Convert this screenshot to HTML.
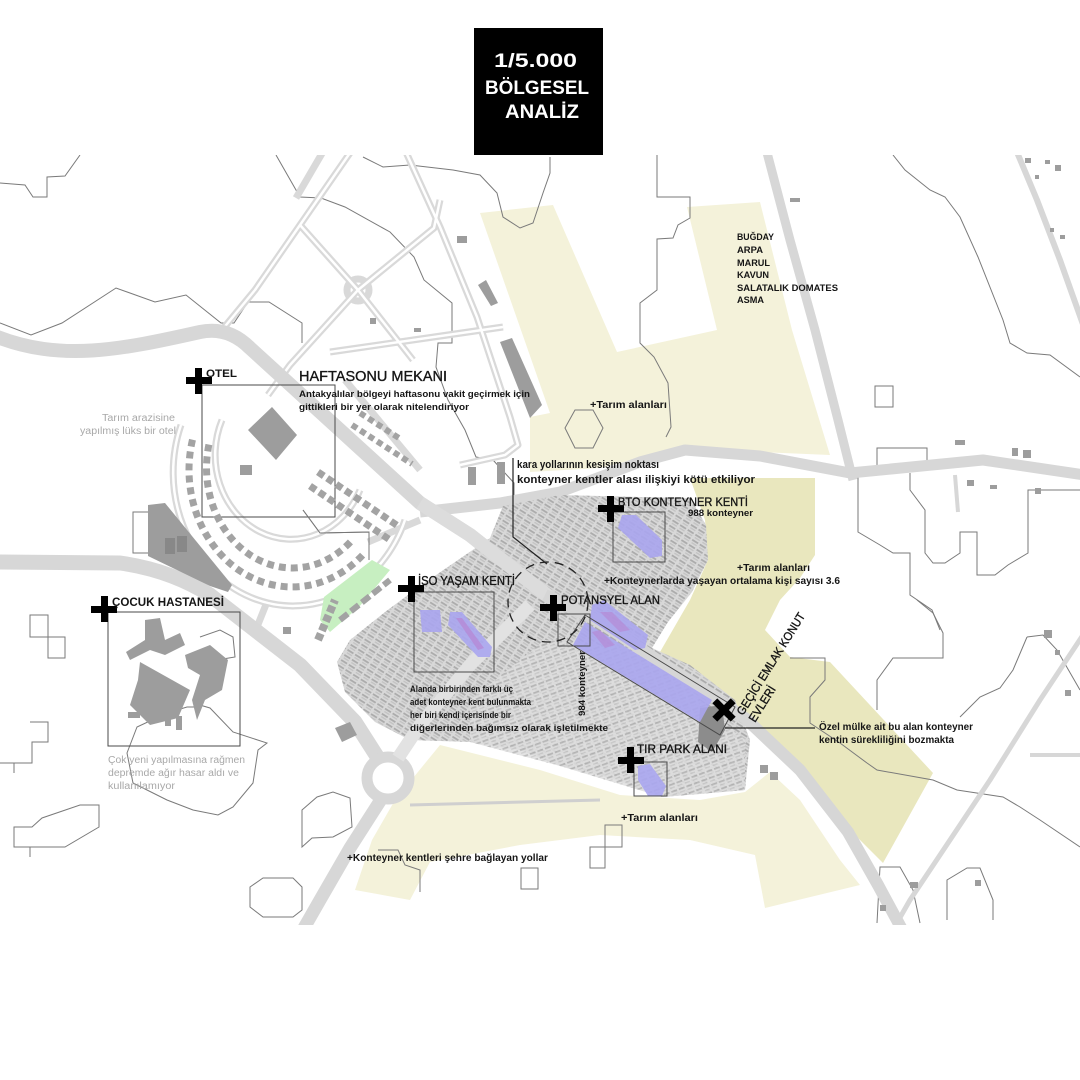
<!DOCTYPE html>
<html><head><meta charset="utf-8">
<style>
html,body{margin:0;padding:0;background:#fff;}
svg{display:block;}
.t{font-family:"Liberation Sans",sans-serif;font-weight:bold;fill:#151515;}
.n{font-family:"Liberation Sans",sans-serif;fill:#151515;stroke:#151515;stroke-width:0.35;}
.g{font-family:"Liberation Sans",sans-serif;fill:#a8a8a8;}
</style></head>
<body>
<svg width="1080" height="1080" viewBox="0 0 1080 1080" xmlns="http://www.w3.org/2000/svg">
<defs>
<pattern id="ct" width="9" height="6" patternUnits="userSpaceOnUse" patternTransform="rotate(32)">
<rect width="9" height="6" fill="#d8d8d8"/>
<rect x="0" y="0" width="7" height="1.8" fill="#ababab"/>
<rect x="1" y="3" width="6" height="1.3" fill="#c2c2c2"/>
</pattern>
<pattern id="ct2" width="8" height="7" patternUnits="userSpaceOnUse" patternTransform="rotate(-20)">
<rect width="8" height="7" fill="#dedede"/>
<rect x="0" y="0" width="6" height="1.8" fill="#b2b2b2"/>
<rect x="0" y="3.5" width="5" height="1.3" fill="#c6c6c6"/>
</pattern>
<clipPath id="map"><rect x="0" y="155" width="1080" height="770"/></clipPath>
</defs>
<rect width="1080" height="1080" fill="#fff"/>

<g clip-path="url(#map)">
<!-- yellow fields -->
<polygon points="480,213 553,205 617,352 717,330 687,207 760,202 792,330 830,455 760,452 685,447 640,458 600,468 530,472 530,417 550,413" fill="#f4f2da"/>
<polygon points="690,478 815,478 815,555 800,578 780,600 765,630 790,657 830,662 933,773 883,863 850,830 800,770 745,718 700,690 660,652 690,600 708,560 705,520" fill="#e9e7be"/>
<polygon points="440,745 540,770 620,795 700,800 745,792 770,772 800,800 840,860 860,885 765,908 755,855 690,840 600,835 520,845 430,862 410,900 355,890 372,840 395,800" fill="#f4f2da"/>

<!-- contour lines -->
<g fill="none" stroke="#7a7a7a" stroke-width="1">
<polyline points="0,183 25,185 33,197 47,197 47,177 65,176 80,155"/>
<polyline points="0,323 31,335 62,323 116,288 155,302 186,295 221,323 234,323 248,302 269,302 302,323 302,343"/>
<polyline points="276,155 300,197 321,198 345,207 390,232 414,257 424,280 452,303 452,343 438,343 436,367 448,400 465,430 476,457 493,460 514,483 514,500"/>
<polyline points="303,510 320,533 369,532 369,560"/>
<polyline points="363,157 383,167 410,165 453,170 480,175 497,193 503,217 520,228 533,223 543,193 550,173 550,157"/>
<polyline points="657,155 657,197 690,197 690,218 678,225 673,238 657,239 657,290 640,303 640,343 654,357 668,383 671,427 666,437"/>
<polyline points="893,155 905,170 930,190 945,197 960,217 978,257 1003,320 1010,343 1027,353 1050,355 1080,377"/>
<rect x="875" y="386" width="18" height="21"/>
<polyline points="877,468 877,448 927,448 927,465"/>
<polyline points="910,473 910,490 925,510 925,553 933,563 945,563 960,553 960,532 977,532 977,575 995,575 1008,565 1028,553 1028,490 1080,490"/>
<polyline points="858,470 858,532 880,545 893,553 910,553 910,595 932,610 940,630"/>
<polyline points="917,600 933,613 943,633 943,658 893,658 877,680 877,710"/>
<polyline points="1027,637 1043,635 1057,650 1080,690"/>
<polyline points="960,717 980,697 1000,688 1013,670 1027,637"/>
<polyline points="790,658 825,658 825,680 810,697 810,723 840,743 867,763 877,770 933,780 957,790 1003,797 1020,807 1040,820 1080,847"/>
<polyline points="877,923 880,867 900,867 913,890 920,923"/>
<polyline points="947,920 947,880 967,868 980,868 993,900 993,920"/>
<polygon points="565,428 575,410 593,410 603,428 593,448 575,448"/>
<polygon points="30,615 48,615 48,637 65,637 65,658 48,658 48,637 30,637"/>
<polyline points="30,722 48,722 48,742 32,742 32,763 0,763"/>
<line x1="14" y1="763" x2="14" y2="773"/>
<polygon points="14,827 32,827 42,818 80,805 99,805 99,827 65,847 14,847"/>
<line x1="30" y1="847" x2="30" y2="857"/>
<polyline points="200,637 220,630 233,637 235,657 217,660 200,707 187,707 167,713 137,727 127,753 133,783 167,800 193,810 218,815 233,807 253,783 258,750 267,743 233,732 210,708 193,703"/>
<polygon points="302,810 317,797 333,792 350,798 352,827 333,837 312,838 302,847 302,823"/>
<polygon points="250,887 263,878 293,878 302,887 302,910 293,917 263,917 250,907"/>
<polygon points="605,825 622,825 622,847 605,847 605,868 590,868 590,847 605,847"/>
<rect x="521" y="868" width="17" height="21"/>
<polyline points="378,850 398,850 405,865 420,870 420,892"/>
<polygon points="133,512 152,512 152,553 133,553"/>
</g>

<!-- campus roads (double line) -->
<g fill="none" stroke-linecap="butt" stroke-linejoin="round">
<g stroke="#d9d9d9" stroke-width="7">
<polyline points="352,150 300,225 255,290 222,330"/>
<polyline points="324,150 296,198"/>
<polyline points="405,150 440,227 477,317 510,417 518,445 505,455 460,465"/>
<polyline points="300,225 358,290 434,228 440,200"/>
<polyline points="358,290 413,360"/>
<polyline points="358,290 290,365 268,395"/>
<polyline points="330,352 503,327"/>
<polyline points="345,380 420,470"/>
<ellipse cx="358" cy="290" rx="11" ry="11"/>
<path d="M181,425 A114,127 0 0 0 405,520"/>
<path d="M222,420 A72,80 0 0 0 360,490"/>
<polyline points="267,602 257,627"/>
<polyline points="368,542 420,520"/>
</g>
<g stroke="#fff" stroke-width="2.5">
<polyline points="352,150 300,225 255,290 222,330"/>
<polyline points="405,150 440,227 477,317 510,417 518,445 505,455 460,465"/>
<polyline points="300,225 358,290 434,228 440,200"/>
<polyline points="358,290 413,360"/>
<polyline points="358,290 290,365 268,395"/>
<polyline points="330,352 503,327"/>
<path d="M181,425 A114,127 0 0 0 405,520"/>
<path d="M222,420 A72,80 0 0 0 360,490"/>
</g>
</g>

<!-- main roads -->
<g fill="none" stroke="#d7d7d7" stroke-linecap="butt" stroke-linejoin="round">
<path d="M-5,336 C60,362 120,350 200,332 Q228,326 250,348 L420,503 L470,535 L545,595" stroke-width="14"/>
<path d="M420,512 L500,503 L560,492 L640,462 L685,450 L760,456 L850,473 L983,460 L1085,475" stroke-width="11"/>
<path d="M-5,562 L120,563 Q170,570 210,595 L300,665 L355,722 L378,758" stroke-width="15"/>
<path d="M382,798 L350,848 L320,900 L300,935" stroke-width="13"/>
<path d="M765,145 L790,240 L815,330 L838,420 L853,480" stroke-width="9"/>
<path d="M1014,145 L1037,200 L1060,260 L1085,330" stroke-width="6"/>
<path d="M1085,632 L1040,700 L990,780 L950,840 L910,900 L890,935" stroke-width="5"/>
<path d="M1030,755 L1085,755" stroke-width="4"/>
<path d="M955,475 L958,512" stroke-width="4"/>
<path d="M410,805 L600,800" stroke-width="3" stroke="#cfcfcf"/>
<circle cx="388" cy="778" r="21" stroke-width="11" fill="#fff"/>
</g>

<!-- green -->
<polygon points="324,597 372,560 390,570 359,607 330,632 320,620" fill="#c7efc1"/>

<!-- container area -->
<path d="M503,506 L560,495 L640,497 L690,498 L706,525 L708,560 L692,592 L668,622 L652,648 L690,665 L735,700 L750,740 L745,790 L700,794 L662,797 L610,778 L560,766 L520,750 L470,742 L410,740 L375,722 L345,692 L337,662 L350,640 L385,612 L420,586 L458,560 L490,538 Z" fill="url(#ct)"/>
<path d="M545,640 L650,650 L700,700 L745,740 L745,790 L662,797 L560,766 L470,742 L470,700 Z" fill="url(#ct2)" opacity="0.85"/>

<!-- roads over containers -->
<g fill="none" stroke="#dcdcdc" stroke-linecap="butt" stroke-linejoin="round">
<path d="M420,503 L470,535 L548,596" stroke-width="14"/>
<path d="M545,595 L600,622 L745,718 L800,770 L848,832 L878,885 L905,935" stroke-width="12" stroke="#d6d6d6"/>
<path d="M530,605 L470,665 L420,725 L398,758" stroke-width="13" stroke="#e2e2e2"/>
</g>
<polygon points="700,708 722,705 725,730 712,752 698,742" fill="#8c8c8c"/>

<!-- purple -->
<g fill="#aaa6ef" opacity="0.9">
<polygon points="622,515 636,515 662,540 662,556 650,558 618,528"/>
<polygon points="420,610 440,610 442,632 422,632"/>
<polygon points="450,612 462,612 492,647 490,657 478,657 448,625"/>
<polygon points="592,605 604,600 648,635 645,648 635,650 590,620"/>
<polygon points="585,622 712,700 700,722 573,645"/>
<polygon points="638,766 650,764 666,786 662,796 648,796 638,780"/>
</g>
<polygon points="456,618 462,618 484,648 478,650" fill="#b58ad6" opacity="0.8"/>
<polygon points="600,612 612,612 630,630 620,632" fill="#b58ad6" opacity="0.7"/>
<polygon points="592,632 600,630 615,645 605,648" fill="#b58ad6" opacity="0.7"/>

<!-- boxes -->
<g fill="none" stroke="#4a4a4a" stroke-width="1">
<rect x="202" y="385" width="133" height="132"/>
<rect x="108" y="612" width="132" height="134"/>
<rect x="414" y="592" width="80" height="80"/>
<rect x="613" y="512" width="52" height="50"/>
<rect x="558" y="614" width="32" height="32"/>
<polygon points="585,615 735,707 720,735 567,642"/>
<rect x="634" y="762" width="33" height="34"/>
<polyline points="303,510 320,533 369,532 369,560" stroke="#777"/>
</g>

<!-- buildings -->
<g fill="#9d9d9d">
<polygon points="248,430 272,407 297,435 276,460"/>
<rect x="240" y="465" width="12" height="10"/>
<polygon points="148,505 165,503 232,585 228,592 210,586 148,556"/>
<rect x="165" y="538" width="10" height="16" fill="#888"/>
<rect x="177" y="536" width="10" height="16" fill="#888"/>
<polygon points="500,342 512,338 542,405 530,418"/>
<polygon points="478,285 486,280 498,303 491,306"/>
<rect x="457" y="236" width="10" height="7"/>
<rect x="414" y="328" width="7" height="4"/>
<rect x="370" y="318" width="6" height="6"/>
<polygon points="145,620 160,618 165,640 180,633 185,645 165,655 150,650 130,660 126,652 145,640"/>
<polygon points="140,662 190,690 178,718 150,725 130,705 138,680"/>
<polygon points="185,655 210,645 228,660 222,690 205,700 197,720 192,700 200,675 188,668"/>
<rect x="128" y="712" width="12" height="6"/>
<rect x="165" y="712" width="6" height="14"/>
<rect x="176" y="716" width="6" height="14"/>
<polygon points="335,728 350,722 357,735 342,742"/>
<rect x="283" y="627" width="8" height="7"/>
<rect x="468" y="467" width="8" height="18"/>
<rect x="497" y="462" width="8" height="22"/>
<rect x="1025" y="158" width="6" height="5"/>
<rect x="1045" y="160" width="5" height="4"/>
<rect x="1055" y="165" width="6" height="6"/>
<rect x="1035" y="175" width="4" height="4"/>
<rect x="1050" y="228" width="4" height="4"/>
<rect x="1060" y="235" width="5" height="4"/>
<rect x="1012" y="448" width="6" height="8"/>
<rect x="1023" y="450" width="8" height="8"/>
<rect x="967" y="480" width="7" height="6"/>
<rect x="990" y="485" width="7" height="4"/>
<rect x="1035" y="488" width="6" height="6"/>
<rect x="955" y="440" width="10" height="5"/>
<rect x="1044" y="630" width="8" height="8"/>
<rect x="1055" y="650" width="5" height="5"/>
<rect x="1065" y="690" width="6" height="6"/>
<rect x="910" y="882" width="8" height="6"/>
<rect x="880" y="905" width="6" height="6"/>
<rect x="975" y="880" width="6" height="6"/>
<rect x="790" y="198" width="10" height="4"/>
<rect x="760" y="765" width="8" height="8"/>
<rect x="770" y="772" width="8" height="8"/>
</g>
<g fill="none" stroke="#a3a3a3">
<path d="M192.5,439.7 A103,117 0 0 0 364.8,552.7" stroke-width="7" stroke-dasharray="7 5"/>
<path d="M208.9,444.6 A86,100 0 0 0 352.8,539.3" stroke-width="7" stroke-dasharray="7 5"/>
<path d="M352,425 L412,464" stroke-width="6" stroke-dasharray="6 4"/>
<path d="M360,413 L402,440" stroke-width="6" stroke-dasharray="6 4"/>
<path d="M318,472 L398,526" stroke-width="7" stroke-dasharray="7 4"/>
<path d="M310,486 L390,540" stroke-width="7" stroke-dasharray="7 4"/>
<path d="M318,640 L335,600" stroke-width="8" stroke-dasharray="7 3"/>
<path d="M340,620 L390,580" stroke-width="6" stroke-dasharray="10 4"/>
</g>
</g>

<!-- dashed circle & leader lines -->
<circle cx="548" cy="602" r="40" fill="none" stroke="#222" stroke-width="1.3" stroke-dasharray="9 6"/>
<polyline points="513,458 513,537 547,564" fill="none" stroke="#222" stroke-width="1.2"/>
<line x1="725" y1="728" x2="815" y2="728" stroke="#222" stroke-width="1.2"/>

<!-- crosses -->
<g fill="#000">
<rect x="186" y="377" width="26" height="7"/><rect x="195" y="368" width="7" height="26"/>
<rect x="91" y="606" width="26" height="7"/><rect x="101" y="596" width="7" height="26"/>
<rect x="398" y="585" width="26" height="7"/><rect x="408" y="576" width="7" height="26"/>
<rect x="598" y="505" width="26" height="7"/><rect x="607" y="496" width="7" height="26"/>
<rect x="540" y="604" width="26" height="7"/><rect x="550" y="595" width="7" height="26"/>
<rect x="618" y="757" width="26" height="7"/><rect x="627" y="747" width="7" height="26"/>
<g transform="translate(724,710) rotate(45)"><rect x="-13" y="-3.5" width="26" height="7"/><rect x="-3.5" y="-13" width="7" height="26"/></g>
</g>

<!-- title -->
<rect x="474" y="28" width="129" height="127" fill="#000"/>
<g font-family="Liberation Sans, sans-serif" font-weight="bold" fill="#fff" font-size="19">
<text x="494" y="67" textLength="83" lengthAdjust="spacingAndGlyphs">1/5.000</text>
<text x="485" y="94" textLength="104" lengthAdjust="spacingAndGlyphs">BÖLGESEL</text>
<text x="505" y="118" textLength="74" lengthAdjust="spacingAndGlyphs">ANALİZ</text>
</g>

<!-- labels -->
<text class="t" x="206" y="377" font-size="11" textLength="31" lengthAdjust="spacingAndGlyphs">OTEL</text>
<text class="n" x="299" y="381" font-size="15" textLength="148" lengthAdjust="spacingAndGlyphs">HAFTASONU MEKANI</text>
<text class="t" x="299" y="397" font-size="9.5" textLength="231" lengthAdjust="spacingAndGlyphs">Antakyalılar bölgeyi haftasonu vakit geçirmek için</text>
<text class="t" x="299" y="410" font-size="9.5" textLength="170" lengthAdjust="spacingAndGlyphs">gittikleri bir yer olarak nitelendiriyor</text>
<text class="g" x="102" y="421" font-size="10" textLength="73" lengthAdjust="spacingAndGlyphs">Tarım arazisine</text>
<text class="g" x="80" y="434" font-size="10" textLength="96" lengthAdjust="spacingAndGlyphs">yapılmış lüks bir otel</text>
<text class="t" x="112" y="606" font-size="12" textLength="112" lengthAdjust="spacingAndGlyphs">ÇOCUK HASTANESİ</text>
<text class="g" x="108" y="763" font-size="10" textLength="137" lengthAdjust="spacingAndGlyphs">Çok yeni yapılmasına rağmen</text>
<text class="g" x="108" y="776" font-size="10" textLength="131" lengthAdjust="spacingAndGlyphs">depremde ağır hasar aldı ve</text>
<text class="g" x="108" y="789" font-size="10" textLength="67" lengthAdjust="spacingAndGlyphs">kullanılamıyor</text>
<text class="n" x="418" y="585" font-size="12.5" textLength="97" lengthAdjust="spacingAndGlyphs">İSO YAŞAM KENTİ</text>
<text class="t" x="517" y="468" font-size="11" textLength="142" lengthAdjust="spacingAndGlyphs">kara yollarının kesişim noktası</text>
<text class="t" x="517" y="483" font-size="11" textLength="238" lengthAdjust="spacingAndGlyphs">konteyner kentler alası ilişkiyi kötü etkiliyor</text>
<text class="n" x="618" y="506" font-size="12" textLength="130" lengthAdjust="spacingAndGlyphs">BTO KONTEYNER KENTİ</text>
<text class="t" x="688" y="516" font-size="9" textLength="65" lengthAdjust="spacingAndGlyphs">988 konteyner</text>
<text class="t" x="737" y="571" font-size="10" textLength="73" lengthAdjust="spacingAndGlyphs">+Tarım alanları</text>
<text class="t" x="604" y="584" font-size="10" textLength="236" lengthAdjust="spacingAndGlyphs">+Konteynerlarda yaşayan ortalama kişi sayısı  3.6</text>
<text class="n" x="561" y="604" font-size="12" textLength="99" lengthAdjust="spacingAndGlyphs">POTANSYEL ALAN</text>
<text class="t" transform="translate(585,716) rotate(-90)" font-size="9.5" textLength="65" lengthAdjust="spacingAndGlyphs">984 konteyner</text>
<text class="t" x="410" y="692" font-size="9.5" textLength="103" lengthAdjust="spacingAndGlyphs">Alanda birbirinden farklı üç</text>
<text class="t" x="410" y="705" font-size="9.5" textLength="121" lengthAdjust="spacingAndGlyphs">adet konteyner kent bulunmakta</text>
<text class="t" x="410" y="718" font-size="9.5" textLength="101" lengthAdjust="spacingAndGlyphs">her biri kendi içerisinde bir</text>
<text class="t" x="410" y="731" font-size="9.5" textLength="198" lengthAdjust="spacingAndGlyphs">diğerlerinden bağımsız olarak işletilmekte</text>
<text class="n" transform="translate(743,716) rotate(-58)" font-size="12" textLength="118" lengthAdjust="spacingAndGlyphs">GEÇİCİ EMLAK KONUT</text>
<text class="n" transform="translate(755,723) rotate(-58)" font-size="12" textLength="40" lengthAdjust="spacingAndGlyphs">EVLERİ</text>
<text class="t" x="819" y="730" font-size="10" textLength="154" lengthAdjust="spacingAndGlyphs">Özel mülke ait bu alan konteyner</text>
<text class="t" x="819" y="743" font-size="10" textLength="135" lengthAdjust="spacingAndGlyphs">kentin sürekliliğini bozmakta</text>
<text class="n" x="637" y="753" font-size="12" textLength="90" lengthAdjust="spacingAndGlyphs">TIR PARK ALANI</text>
<text class="t" x="621" y="821" font-size="10" textLength="77" lengthAdjust="spacingAndGlyphs">+Tarım alanları</text>
<text class="t" x="347" y="861" font-size="10" textLength="201" lengthAdjust="spacingAndGlyphs">+Konteyner kentleri şehre bağlayan yollar</text>
<text class="t" x="590" y="408" font-size="10" textLength="77" lengthAdjust="spacingAndGlyphs">+Tarım alanları</text>
<g class="t" font-size="9.5">
<text x="737" y="240" textLength="37" lengthAdjust="spacingAndGlyphs">BUĞDAY</text>
<text x="737" y="253" textLength="26" lengthAdjust="spacingAndGlyphs">ARPA</text>
<text x="737" y="266" textLength="33" lengthAdjust="spacingAndGlyphs">MARUL</text>
<text x="737" y="278" textLength="32" lengthAdjust="spacingAndGlyphs">KAVUN</text>
<text x="737" y="291" textLength="101" lengthAdjust="spacingAndGlyphs">SALATALIK DOMATES</text>
<text x="737" y="303" textLength="27" lengthAdjust="spacingAndGlyphs">ASMA</text>
</g>
</svg>
</body></html>
